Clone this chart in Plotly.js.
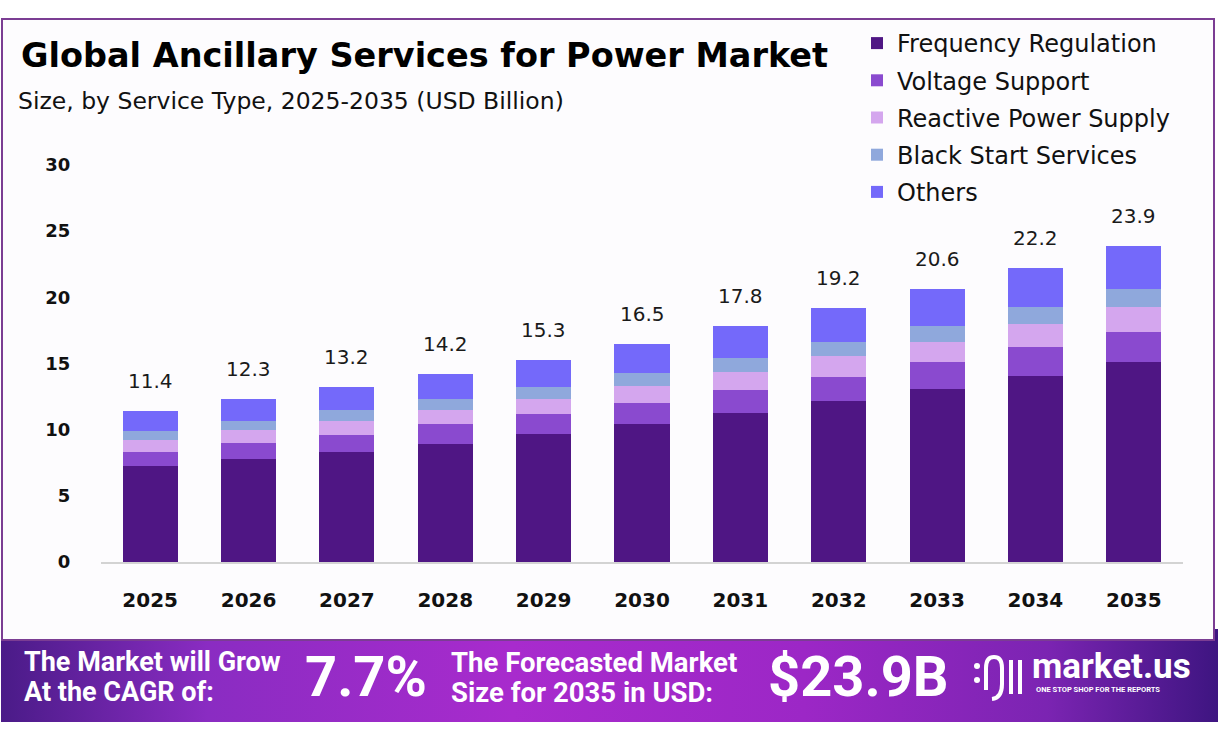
<!DOCTYPE html>
<html>
<head>
<meta charset="utf-8" />
<script src="https://cdn.plot.ly/plotly-3.0.1.min.js"></script>
<style>
  html, body { margin: 0; padding: 0; background: #ffffff; }
  #chart { width: 1218px; height: 738px; }
</style>
</head>
<body>
<div id="chart"></div>
<script>
  // values (USD Billion)
  const years = ["2025", "2026", "2027", "2028", "2029", "2030", "2031", "2032", "2033", "2034", "2035"];
  const frequency = [7.25, 7.8, 8.35, 8.95, 9.7, 10.4, 11.25, 12.2, 13.1, 14.05, 15.1];
  const voltage = [1.05, 1.2, 1.25, 1.45, 1.45, 1.65, 1.75, 1.8, 2.05, 2.2, 2.3];
  const reactive = [0.9, 0.95, 1.05, 1.1, 1.2, 1.25, 1.35, 1.55, 1.5, 1.7, 1.85];
  const blackStart = [0.7, 0.7, 0.8, 0.8, 0.9, 0.95, 1.1, 1.1, 1.2, 1.3, 1.4];
  const others = [1.5, 1.65, 1.75, 1.9, 2.05, 2.25, 2.35, 2.55, 2.75, 2.95, 3.25];
  const totals = [11.4, 12.3, 13.2, 14.2, 15.3, 16.5, 17.8, 19.2, 20.6, 22.2, 23.9];

  const seriesNames = ["Frequency Regulation", "Voltage Support", "Reactive Power Supply", "Black Start Services", "Others"];
  const seriesValues = [frequency, voltage, reactive, blackStart, others];
  const seriesColors = ["#4f1684", "#8a4acf", "#d4a6ee", "#8fa8dc", "#7469fa"];

  const yTicks = [0, 5, 10, 15, 20, 25, 30];

  // plot area in pixels
  const W = 1218, H = 738;
  const M = { l: 101, r: 35, t: 165, b: 176 };
  const pw = W - M.l - M.r;
  const ph = H - M.t - M.b;
  const px = (x) => (x - M.l) / pw;        // page x -> paper x
  const py = (y) => (H - M.b - y) / ph;    // page y -> paper y

  const font = "'DejaVu Sans', Inter, sans-serif";
  const bannerFont = "Roboto, 'Liberation Sans', sans-serif";

  const traces = seriesNames.map((name, i) => ({
    type: "bar",
    name: name,
    x: years,
    y: seriesValues[i],
    legendgroup: name,
    marker: { color: seriesColors[i], line: { width: 0 } },
    hoverinfo: "skip",
  }));

  // on a category axis annotations take the category index
  const totalLabels = years.map((yr, i) => ({
    x: i,
    y: totals[i],
    xref: "x",
    yref: "y",
    text: totals[i].toFixed(1),
    showarrow: false,
    yanchor: "middle",
    yshift: 30,
    font: { family: font, size: 20, color: "#1a1a1a" },
  }));

  const bannerSvg =
    "<svg xmlns='http://www.w3.org/2000/svg' width='1218' height='93'>" +
    "<defs><linearGradient id='g' x1='0' y1='0' x2='1' y2='0'>" +
    "<stop offset='0' stop-color='#4a1b88'/>" +
    "<stop offset='0.17' stop-color='#8a2cc2'/>" +
    "<stop offset='0.42' stop-color='#a82bcd'/>" +
    "<stop offset='0.66' stop-color='#9c27c6'/>" +
    "<stop offset='0.86' stop-color='#7b24b2'/>" +
    "<stop offset='1' stop-color='#3e1581'/>" +
    "</linearGradient></defs>" +
    "<rect width='1218' height='93' fill='url(#g)'/></svg>";

  const white = "#ffffff";
  const bannerText = [
    { x: 22, y: 662, text: "<b>The Market will Grow</b>", size: 27 },
    { x: 22, y: 692, text: "<b>At the CAGR of:</b>", size: 27 },
    { x: 303, y: 677, text: "<b>7.7%</b>", size: 56 },
    { x: 449, y: 662, text: "<b>The Forecasted Market</b>", size: 27.5 },
    { x: 449, y: 692, text: "<b>Size for 2035 in USD:</b>", size: 27.5 },
    { x: 766, y: 677, text: "<b>$23.9B</b>", size: 56 },
    { x: 1030, y: 666, text: "<b>market.us</b>", size: 35 },
    { x: 1034, y: 689, text: "<b>ONE STOP SHOP FOR THE REPORTS</b>", size: 7.5 },
  ].map((t) => ({
    x: px(t.x),
    y: py(t.y),
    xref: "paper",
    yref: "paper",
    text: t.text,
    showarrow: false,
    xanchor: "left",
    yanchor: "middle",
    align: "left",
    font: { family: bannerFont, size: t.size, color: white },
  }));

  const subtitle = {
    x: px(16),
    y: py(101),
    xref: "paper",
    yref: "paper",
    text: "Size, by Service Type, 2025-2035 (USD Billion)",
    showarrow: false,
    xanchor: "left",
    yanchor: "middle",
    font: { family: font, size: 23.5, color: "#111111" },
  };

  // logo mark: two dots, an arch and two bars
  const logoLine = { color: white, width: 4 };
  const logoShapes = [
    { type: "circle", x0: px(974), x1: px(980), y0: py(663), y1: py(669) },
    { type: "circle", x0: px(974), x1: px(980), y0: py(677), y1: py(683) },
  ].map((s) => Object.assign(s, { xref: "paper", yref: "paper", fillcolor: white, line: { width: 0 } }));
  logoShapes.push({
    type: "path",
    xref: "paper",
    yref: "paper",
    path:
      "M " + px(986) + "," + py(690) +
      " L " + px(986) + "," + py(668) +
      " Q " + px(986) + "," + py(657) + " " + px(994) + "," + py(657) +
      " Q " + px(1002) + "," + py(657) + " " + px(1002) + "," + py(668) +
      " L " + px(1002) + "," + py(684) +
      " Q " + px(1002) + "," + py(698) + " " + px(992) + "," + py(699),
    line: logoLine,
  });
  [1011, 1020].forEach((xx) =>
    logoShapes.push({
      type: "line",
      xref: "paper",
      yref: "paper",
      x0: px(xx), x1: px(xx),
      y0: py(660), y1: py(694),
      line: logoLine,
    })
  );

  const layout = {
    width: W,
    height: H,
    margin: M,
    paper_bgcolor: "#ffffff",
    plot_bgcolor: "rgba(0,0,0,0)",
    barmode: "stack",
    bargap: 0.44,
    showlegend: true,
    title: {
      text: "<b>Global Ancillary Services for Power Market</b>",
      xref: "container",
      yref: "container",
      x: 21 / W,
      xanchor: "left",
      y: 1 - 55 / H,
      yanchor: "middle",
      font: { family: font, size: 33.5, color: "#000000" },
    },
    legend: {
      x: px(857),
      y: py(21),
      xanchor: "left",
      yanchor: "top",
      traceorder: "grouped",
      tracegroupgap: 3,
      bgcolor: "rgba(0,0,0,0)",
      font: { family: font, size: 24, color: "#111111" },
    },
    xaxis: {
      type: "category",
      range: [-0.5, years.length - 0.5],
      showgrid: false,
      zeroline: false,
      showline: true,
      linecolor: "#d3d3d3",
      linewidth: 1.5,
      ticks: "outside",
      ticklen: 19,
      tickcolor: "rgba(0,0,0,0)",
      tickfont: { family: font, size: 20, color: "#111111", weight: "bold" },
      fixedrange: true,
    },
    yaxis: {
      range: [0, 30],
      tickvals: yTicks,
      ticktext: yTicks.map(String),
      showgrid: false,
      zeroline: false,
      showline: false,
      ticks: "outside",
      ticklen: 26,
      tickcolor: "rgba(0,0,0,0)",
      tickfont: { family: font, size: 18, color: "#111111", weight: "bold" },
      fixedrange: true,
    },
    images: [
      {
        source: "data:image/svg+xml;charset=utf-8," + encodeURIComponent(bannerSvg),
        xref: "paper",
        yref: "paper",
        x: px(1),
        y: py(629),
        sizex: px(1218) - px(1),
        sizey: py(629) - py(722),
        sizing: "stretch",
        xanchor: "left",
        yanchor: "top",
        layer: "below",
      },
    ],
    shapes: [
      {
        type: "rect",
        xref: "paper",
        yref: "paper",
        x0: px(2), x1: px(1214),
        y0: py(640), y1: py(19),
        line: { color: "#7b3d93", width: 2 },
        fillcolor: "#fdfcfe",
        layer: "below",
      },
      ...logoShapes,
    ],
    annotations: [subtitle, ...totalLabels, ...bannerText],
  };

  Plotly.newPlot("chart", traces, layout, { displayModeBar: false, staticPlot: true });
</script>
</body>
</html>
